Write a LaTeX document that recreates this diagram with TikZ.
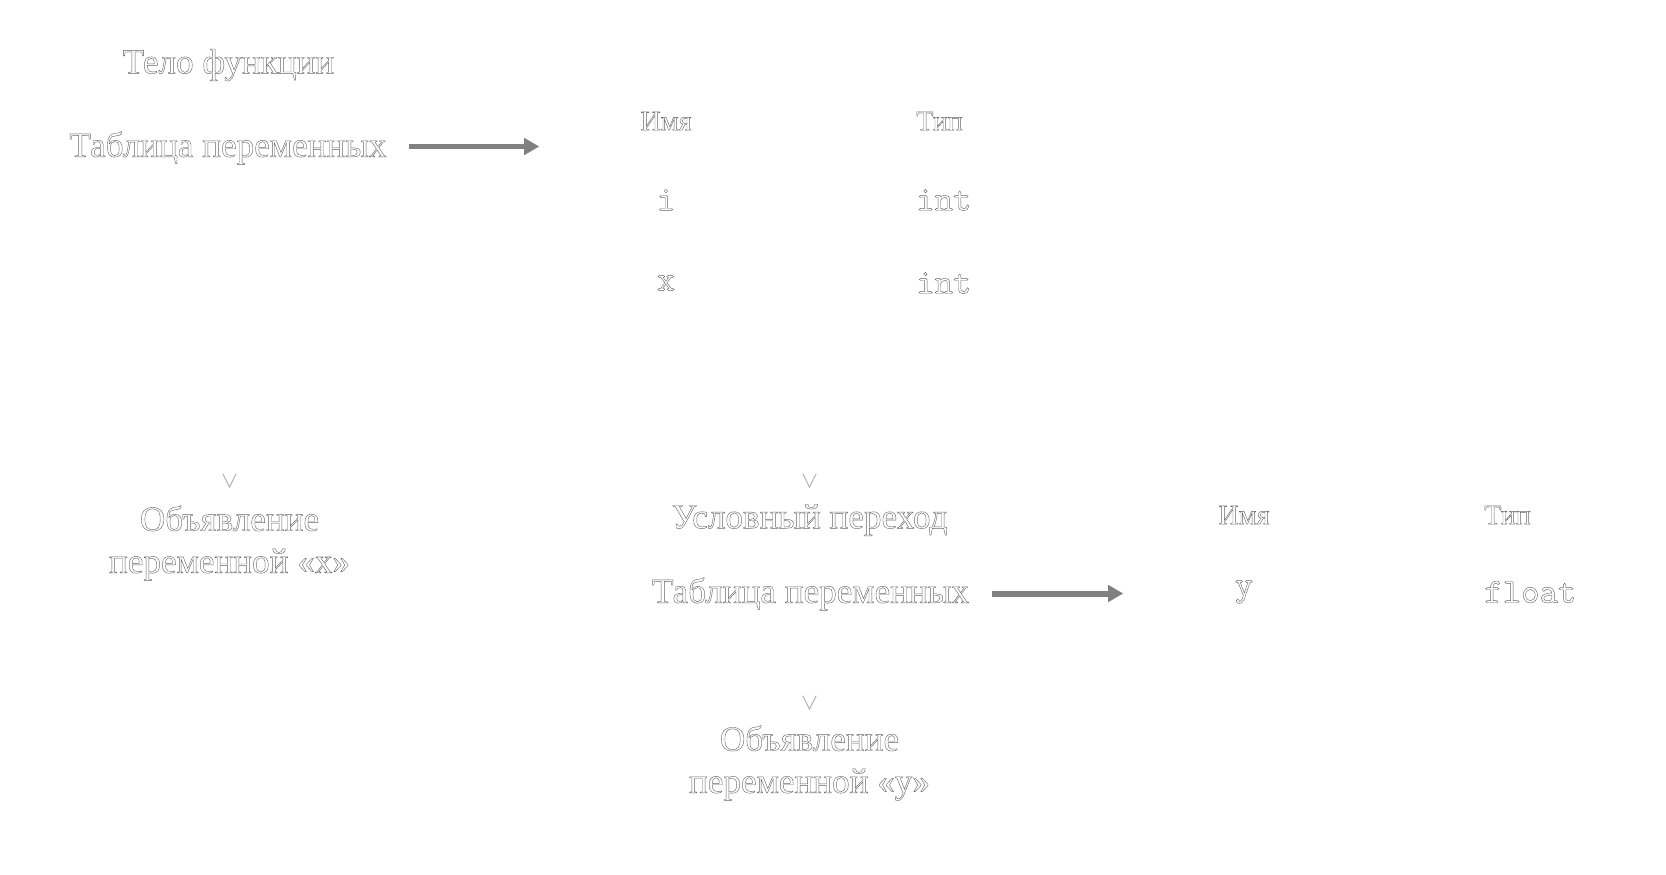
\documentclass[tikz,border=0pt]{standalone}
\usepackage{fontspec}
\setmainfont{Liberation Serif}
\usetikzlibrary{arrows.meta,calc}

% hollow glyphs: white fill, thin grey stroke
\newcommand\hollow[1]{{\color{white}\special{pdf:literal direct 2 Tr 0.4 G 0.12 w}#1\special{pdf:literal direct 0 Tr}}}

\begin{document}
\begin{tikzpicture}[
    box/.style={draw=white,fill=white,rounded corners=2pt,inner sep=0pt},
    txt/.style={inner sep=1pt,align=center,font=\normalsize},
    head/.style={inner sep=1pt,font=\footnotesize},
    code/.style={inner sep=1pt,font=\ttfamily},
    flow/.style={white,line width=0.6pt,-{Straight Barb[gray!55,length=3.8pt,width=3.8pt,line width=0.3pt]}},
    link/.style={gray,line width=1.7pt,-{Triangle[length=4.3pt,width=4.6pt]}}
  ]
    \useasboundingbox (0,0) rectangle (16.66,-8.74);
    % function body
    \node[box,minimum width=3.93cm,minimum height=1.95cm] (body) at (2.285,-1.255) {};
    \node[txt] (bodytitle) at (2.285,-0.65) {\hollow{Тело функции}};
    \node[box,minimum width=3.6cm,minimum height=0.77cm] (bodytab) at (2.28,-1.465) {};
    \node[txt] (bodytabtext) at (2.28,-1.48) {\hollow{Таблица переменных}};
    % first table
    \node[box,minimum width=5.42cm,minimum height=2.41cm] (tabA) at (8.11,-1.975) {};
    \node[head] (tabAname) at (6.66,-1.21) {\hollow{Имя}};
    \node[head,anchor=west] (tabAtype) at (9.12,-1.21) {\hollow{Тип}};
    \node[code] (tabAi) at (6.66,-2.0) {\hollow{i}};
    \node[code,anchor=west] (tabAit) at (9.12,-2.0) {\hollow{int}};
    \node[code] (tabAx) at (6.66,-2.83) {\hollow{x}};
    \node[code,anchor=west] (tabAxt) at (9.12,-2.83) {\hollow{int}};
    % declaration of x
    \node[box,minimum width=3.95cm,minimum height=1.15cm] (declx) at (2.295,-5.465) {};
    \node[txt] (declxtext) at (2.295,-5.43) {\hollow{Объявление}\\\hollow{переменной «x»}};
    % conditional jump
    \node[box,minimum width=3.95cm,minimum height=1.75cm] (cond) at (8.095,-5.765) {};
    \node[txt] (condtitle) at (8.095,-5.2) {\hollow{Условный переход}};
    \node[box,minimum width=3.61cm,minimum height=0.77cm] (condtab) at (8.105,-5.935) {};
    \node[txt] (condtabtext) at (8.105,-5.94) {\hollow{Таблица переменных}};
    % declaration of y
    \node[box,minimum width=3.95cm,minimum height=1.13cm] (decly) at (8.095,-7.675) {};
    \node[txt] (declytext) at (8.095,-7.63) {\hollow{Объявление}\\\hollow{переменной «y»}};
    % second table
    \node[box,minimum width=5.4cm,minimum height=1.64cm] (tabB) at (13.94,-5.53) {};
    \node[head] (tabBname) at (12.44,-5.15) {\hollow{Имя}};
    \node[head,anchor=west] (tabBtype) at (14.8,-5.15) {\hollow{Тип}};
    \node[code] (tabBy) at (12.44,-5.92) {\hollow{y}};
    \node[code,anchor=west] (tabByt) at (14.8,-5.92) {\hollow{float}};

    \draw[link] (bodytab.east) -- (tabA.west |- bodytab.east);
    \draw[link] (condtab.east) -- (tabB.west |- condtab.east);
    \draw[flow] (body.south -| declx.north) -- (declx.north);
    \draw[flow] (declx.east) -- ++(0.4,0) |- ($(cond.north)+(0,0.25)$) -- (cond.north);
    \draw[flow] (cond.south) -- (decly.north);
\end{tikzpicture}
\end{document}
